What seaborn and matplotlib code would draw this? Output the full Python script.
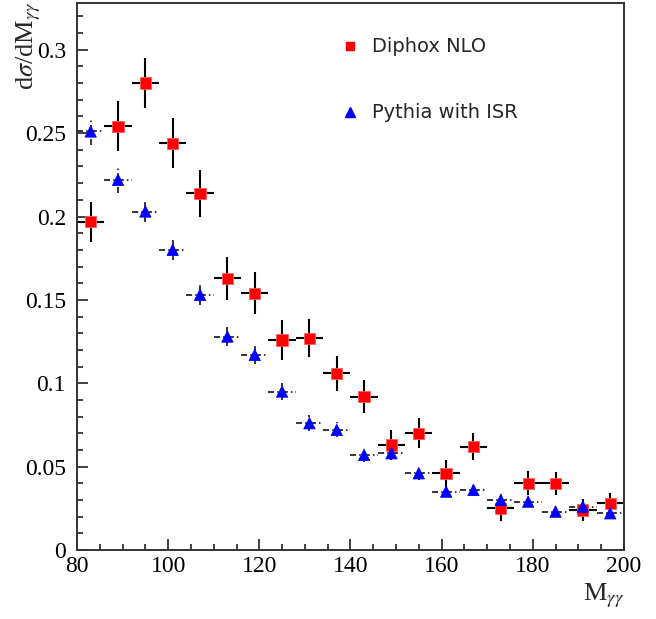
import numpy as np
import pandas as pd
import seaborn as sns
import matplotlib.pyplot as plt
from matplotlib.ticker import MultipleLocator

# bin centres (6 GeV bins from 80 to 200)
mass = [83, 89, 95, 101, 107, 113, 119, 125, 131, 137,
        143, 149, 155, 161, 167, 173, 179, 185, 191, 197]
half_width = 3

diphox = [0.197, 0.254, 0.280, 0.244, 0.214, 0.163, 0.154, 0.126, 0.127, 0.106,
          0.092, 0.063, 0.070, 0.046, 0.062, 0.025, 0.040, 0.040, 0.024, 0.028]
diphox_err = [0.012, 0.015, 0.015, 0.015, 0.014, 0.013, 0.0125, 0.012, 0.0115, 0.0105,
              0.010, 0.009, 0.009, 0.008, 0.008, 0.0075, 0.0072, 0.0068, 0.0065, 0.006]

pythia = [0.251, 0.222, 0.203, 0.180, 0.153, 0.128, 0.117, 0.095, 0.076, 0.072,
          0.057, 0.058, 0.046, 0.035, 0.036, 0.030, 0.029, 0.023, 0.026, 0.022]
pythia_err = [0.008, 0.0078, 0.0065, 0.006, 0.006, 0.0055, 0.0055, 0.005, 0.0048, 0.0045,
              0.004, 0.004, 0.0038, 0.0035, 0.0035, 0.0033, 0.003, 0.003, 0.003, 0.003]

df = pd.concat([
    pd.DataFrame({"m": mass, "y": diphox, "err": diphox_err, "set": "Diphox NLO"}),
    pd.DataFrame({"m": mass, "y": pythia, "err": pythia_err, "set": "Pythia with ISR"}),
], ignore_index=True)

sns.set_style("ticks")
plt.rcParams["font.family"] = ["Liberation Serif", "DejaVu Serif"]

fig = plt.figure(figsize=(6.56, 6.19), dpi=100)
ax = fig.add_axes([0.1174, 0.1115, 0.8336, 0.8835])

py = df[df["set"] == "Pythia with ISR"]
dp = df[df["set"] == "Diphox NLO"]

eb = ax.errorbar(py["m"], py["y"], xerr=half_width, yerr=py["err"], fmt="none",
                 ecolor="black", elinewidth=1.1, capsize=0, zorder=2)
for lc in eb[2]:
    lc.set_linestyle((0, (4, 2, 1, 2)))
ax.errorbar(dp["m"], dp["y"], xerr=half_width, yerr=dp["err"], fmt="none",
            ecolor="black", elinewidth=1.5, capsize=0, zorder=2)

sns.scatterplot(data=df, x="m", y="y", hue="set", style="set",
                markers={"Diphox NLO": "s", "Pythia with ISR": "^"},
                palette={"Diphox NLO": "#ff0000", "Pythia with ISR": "#0000ff"},
                s=66, linewidth=0.6,
                edgecolor="none", ax=ax, legend=False, zorder=3)
# red squares get a faint pinkish edge
ax.collections[-1].set_edgecolors(["#ff6060" if s == "Diphox NLO" else "#0000ff" for s in df["set"]])

ax.set_xlim(80, 200)
ax.set_ylim(0, 0.328)
ax.xaxis.set_major_locator(MultipleLocator(20))
ax.xaxis.set_minor_locator(MultipleLocator(5))
ax.yaxis.set_major_locator(MultipleLocator(0.05))
ax.yaxis.set_minor_locator(MultipleLocator(0.01))
ax.set_yticks([0, 0.05, 0.1, 0.15, 0.2, 0.25, 0.3])
ax.set_yticklabels(["0", "0.05", "0.1", "0.15", "0.2", "0.25", "0.3"])
ax.tick_params(axis="both", which="major", direction="in", length=8, width=1.2,
               labelsize=17, colors="#222222", labelcolor="black")
ax.tick_params(axis="both", which="minor", direction="in", length=4, width=1.2,
               colors="#222222")
ax.tick_params(axis="x", pad=4)
ax.tick_params(axis="y", pad=8)
for sp in ax.spines.values():
    sp.set_linewidth(1.4)
    sp.set_color("#333333")
ax.set_xlabel("")
ax.set_ylabel("")

fig.text(0.952, 0.015, r"M$_{\gamma\gamma}$", ha="right", va="bottom", fontsize=19,
         math_fontfamily="stix")
fig.text(0.022, 0.997, r"d$\sigma$/dM$_{\gamma\gamma}$", rotation=90, ha="left", va="top",
         fontsize=19, math_fontfamily="stix")

# legend drawn as free markers + text, in axes coordinates
ax.plot([0.499], [0.921], marker="s", color="#ff0000", markersize=6,
        transform=ax.transAxes, linestyle="none", clip_on=False)
ax.plot([0.499], [0.800], marker="^", color="#0000ff", markersize=6.5,
        transform=ax.transAxes, linestyle="none", clip_on=False)
ax.text(0.540, 0.921, "Diphox NLO", transform=ax.transAxes, va="center", ha="left",
        fontsize=14, family=["DejaVu Sans"])
ax.text(0.540, 0.800, "Pythia with ISR", transform=ax.transAxes, va="center", ha="left",
        fontsize=14, family=["DejaVu Sans"])

fig.savefig("out.png", dpi=100)
